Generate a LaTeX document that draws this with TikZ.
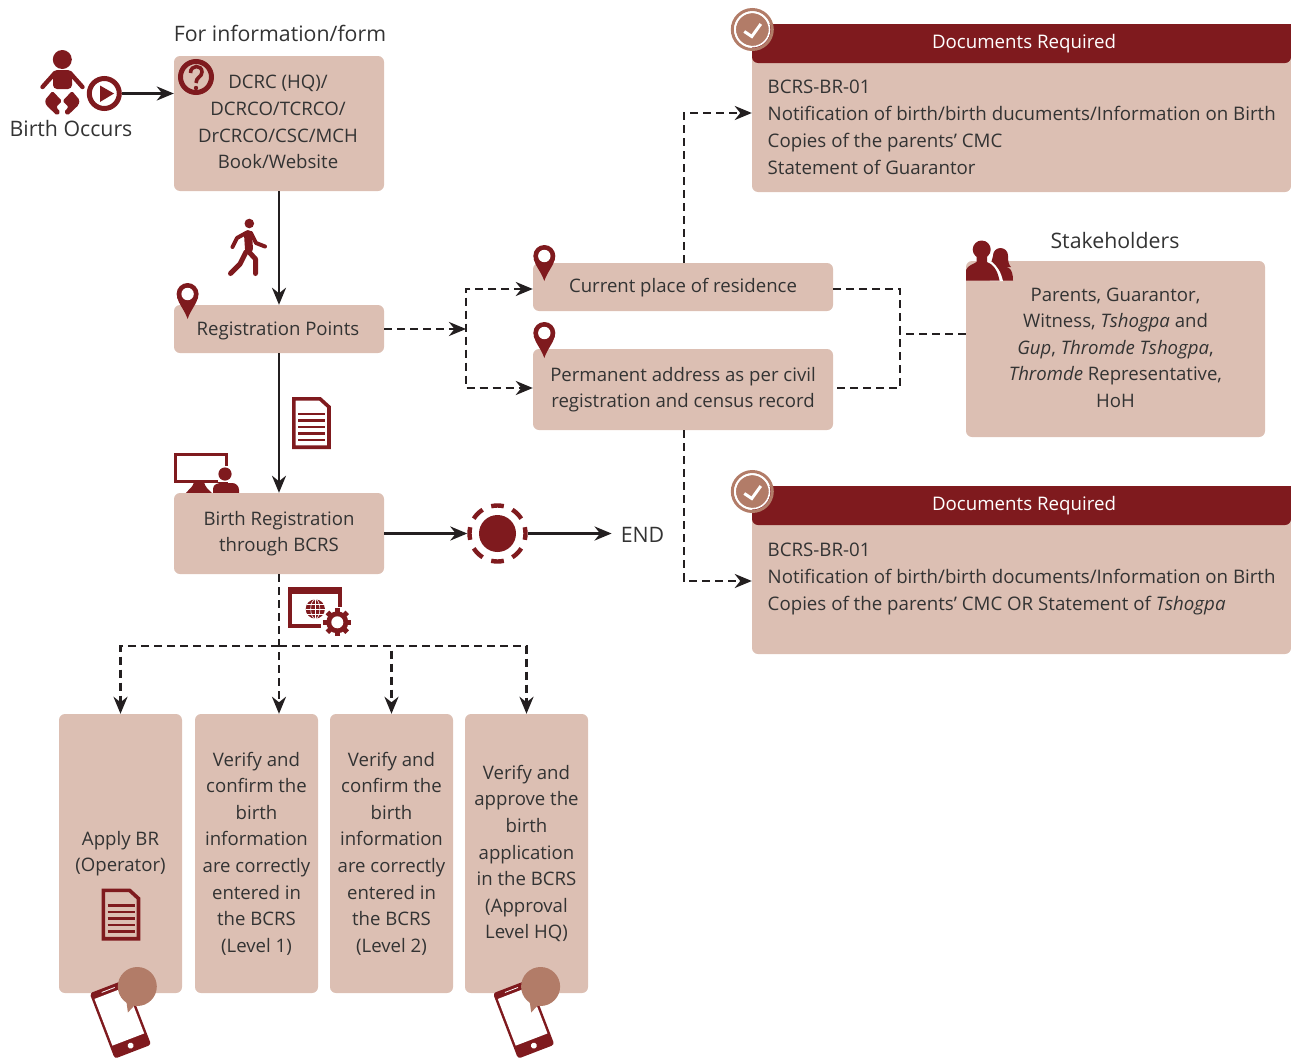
\documentclass[tikz,border=0pt]{standalone}
\usepackage{fontspec}
\setmainfont{Open Sans}
\usetikzlibrary{arrows.meta,calc}
\definecolor{boxfill}{HTML}{DCBFB3}
\definecolor{dred}{HTML}{7F1A1E}
\definecolor{brown}{HTML}{B27C68}
\definecolor{ink}{HTML}{231F20}
\definecolor{txt}{HTML}{333333}
\newcommand\liftlines[2]{\raisebox{#1}{\begin{tabular}{@{}c@{\hspace{2pt}}}#2\end{tabular}}}
\tikzset{
  x=1pt,y=-1pt,
  tip/.style={-{Stealth[length=17pt,width=14pt,inset=5.5pt]}},
  tips/.style={{Stealth[length=17pt,width=14pt,inset=5.5pt]}-{Stealth[length=17pt,width=14pt,inset=5.5pt]}},
  solidline/.style={draw=ink,line width=2.7pt},
  dashline/.style={draw=ink,line width=2.8pt,dash pattern=on 8pt off 5pt},
  boxbase/.style={fill=boxfill,rounded corners=6pt,inner sep=0pt,text=txt,align=center,font=\fontsize{18.6}{26.6}\selectfont},
  headtext/.style={inner sep=0pt,text=txt,font=\fontsize{21.3}{26}\selectfont},
  bodytext/.style={inner sep=0pt,text=txt,align=left,anchor=west,font=\fontsize{18.7}{27}\selectfont},
  whitetext/.style={inner sep=0pt,text=white,font=\fontsize{18.7}{22}\selectfont},
  pin/.pic={
    \fill[dred] (-10.6,14) .. controls (-9,21) and (-3,27) .. (0,36) .. controls (3,27) and (9,21) .. (10.6,14) -- cycle;
    \fill[dred] (0,11) circle[radius=11];
    \fill[white] (0,11) circle[radius=6.2];
  },
  sheet/.pic={
    \draw[dred,line width=3.6pt,miter limit=4] (1.8,1.8) -- (28,1.8) -- (37,10) -- (37,50.2) -- (1.8,50.2) -- cycle;
    \foreach \yy in {17,23.5,30,36.5,43} \draw[dred,line width=2.6pt] (6,\yy) -- (33,\yy);
  },
  phone/.pic={
    \begin{scope}[rotate=21]
      \fill[dred,rounded corners=3pt] (-19.5,-35) rectangle (19.5,35);
      \fill[white] (-17,-28) rectangle (17,22);
      \draw[white,line width=.8pt] (-8,-31.5) -- (6,-31.5);
      \fill[white] (0,28.5) circle[radius=3];
    \end{scope}
    \fill[brown] (16.9,-32.5) circle[radius=19.5];
    \fill[brown] (3,-40) -- (7.5,-6.5) -- (20,-20) -- cycle;
  },
  check/.pic={
    \draw[brown,line width=3pt] (0,0) circle[radius=20];
    \fill[brown] (0,0) circle[radius=16.5];
    \draw[white,line width=1.6pt] (0,0) circle[radius=17.2];
    \draw[white,line width=3pt] (-8,2) -- (-.5,7) -- (8.5,-5.5);
  },
}
\begin{document}
\begin{tikzpicture}
\useasboundingbox (0,0) rectangle (1291,1060);

% monitor behind the registration box
\fill[dred] (186,493) .. controls (190,488) and (193,487) .. (194,482) -- (204,482) .. controls (205,487) and (208,489) .. (212,493) -- cycle;
\draw[dred,line width=2.6pt,fill=white] (175.3,454.3) rectangle (226.7,481.5);
\fill[white] (218,466) rectangle (232,482);
\fill[dred] (225,474) circle[radius=6.6];
\fill[dred] (213,495) -- (213,489) .. controls (213,484) and (218,483) .. (222,483) -- (232,483) .. controls (236,483) and (239,486) .. (239,490) -- (239,495) -- cycle;

% boxes
\node[boxbase,minimum width=210pt,minimum height=135pt] (dcrc) at (279,123.5) {\liftlines{1.5pt}{DCRC (HQ)/\\DCRCO/TCRCO/\\DrCRCO/CSC/MCH\\Book/Website}};
\node[boxbase,minimum width=210pt,minimum height=48pt] (reg) at (279,329) {\rule[-4pt]{0pt}{22pt}Registration Points\rule{2pt}{0pt}};
\node[boxbase,minimum width=210pt,minimum height=81pt] (bir) at (279,533.5) {Birth Registration\\through BCRS};
\node[boxbase,minimum width=300pt,minimum height=48pt] (cur) at (683,287) {\rule[-4pt]{0pt}{20pt}Current place of residence};
\node[boxbase,minimum width=300pt,minimum height=81pt] (perm) at (683,389.5) {Permanent address as per civil\\registration and census record};
\node[boxbase,minimum width=299pt,minimum height=176pt] (stake) at (1115.5,349) {\rule{2pt}{0pt}\liftlines{1pt}{Parents, Guarantor,\\Witness, \textit{Tshogpa} and\\\textit{Gup}, \textit{Thromde Tshogpa},\\\textit{Thromde} Representative,\\HoH}};
\node[boxbase,minimum width=123pt,minimum height=279pt] (col1) at (120.5,853.5) {Apply BR\\(Operator)};
\node[boxbase,minimum width=123pt,minimum height=279pt] (col2) at (256.5,853.5) {Verify and\\confirm the\\birth\\information\\are correctly\\entered in\\the BCRS\\(Level 1)};
\node[boxbase,minimum width=123pt,minimum height=279pt] (col3) at (391.5,853.5) {Verify and\\confirm the\\birth\\information\\are correctly\\entered in\\the BCRS\\(Level 2)};
\node[boxbase,minimum width=123pt,minimum height=279pt] (col4) at (526.5,853.5) {Verify and\\approve the\\birth\\application\\in the BCRS\\(Approval\\Level HQ)};

% document panels
\fill[boxfill,rounded corners=6pt] (752,24) -- (752,192) -- (1291,192) [sharp corners] -- (1291,24) -- cycle;
\fill[dred,rounded corners=6pt] (752,24) -- (752,63) -- (1291,63) [sharp corners] -- (1291,24) -- cycle;
\fill[boxfill,rounded corners=6pt] (752,486) -- (752,654) -- (1291,654) [sharp corners] -- (1291,486) -- cycle;
\fill[dred,rounded corners=6pt] (752,486) -- (752,525) -- (1291,525) [sharp corners] -- (1291,486) -- cycle;
\node[minimum width=539pt,minimum height=168pt,inner sep=0pt] (doc1) at (1021.5,108) {};
\node[minimum width=539pt,minimum height=168pt,inner sep=0pt] (doc2) at (1021.5,570) {};
\node[whitetext] (h1) at (1024,44) {Documents Required};
\node[whitetext] (h2) at (1024,506) {Documents Required};
\node[bodytext] (t1) at (767.5,127.5) {BCRS-BR-01\\Notification of birth/birth ducuments/Information on Birth\\Copies of the parents’ CMC\\Statement of Guarantor};
\node[bodytext] (t2) at (767.5,578.5) {BCRS-BR-01\\Notification of birth/birth documents/Information on Birth\\Copies of the parents’ CMC OR Statement of \textit{Tshogpa}};

% free labels
\node[headtext] (forinfo) at (280,33) {For information/form};
\node[headtext] (birth) at (71,129) {Birth Occurs};
\node[headtext] (stk) at (1115,241) {Stakeholders};
\node[headtext,inner sep=0pt] (endl) at (642.5,534.5) {END};

% start icon: baby and play button
\fill[dred] (62.3,59.5) circle[radius=9.5];
\fill[dred,rounded corners=4pt] (53,70) rectangle (72,89);
\draw[dred,line width=4.4pt,line cap=round,line join=round] (55,73) -- (42.5,87);
\draw[dred,line width=4.4pt,line cap=round,line join=round] (70,73) -- (82.5,87);
\fill[dred,rounded corners=1.5pt] (52.5,91) -- (62,101) -- (56,107) -- (60.5,112) -- (57,115.5) -- (46,105) -- (45,100) -- cycle;
\fill[dred,rounded corners=1.5pt] (72,91) -- (62.6,101) -- (68.6,107) -- (64,112) -- (67.6,115.5) -- (78.6,105) -- (79.6,100) -- cycle;
\node[circle,draw=dred,line width=5pt,fill=white,minimum size=30pt,inner sep=0pt] (play) at (104.3,93.5) {};
\fill[dred] (100,85.5) -- (114,93.5) -- (100,102) -- cycle;

% question mark
\draw[dred,line width=5pt] (196,77) circle[radius=15.5];
\draw[dred,line width=3.6pt] (190.5,73) .. controls (190.5,64.5) and (202,64.5) .. (202,72) .. controls (202,77) and (196,77) .. (196,83);
\fill[dred] (196,88) circle[radius=2.2];

% walker
\fill[dred] (249.3,223.5) circle[radius=4.8];
\draw[dred,line width=8pt,line cap=round] (248,234) -- (249,249);
\draw[dred,line width=4pt,line cap=round,line join=round] (246,233) -- (237,238) -- (232.5,247);
\draw[dred,line width=4pt,line cap=round,line join=round] (251,233) -- (256,243) -- (265,246.5);
\draw[dred,line width=5pt,line cap=round,line join=round] (246,252) -- (240,264) -- (230.5,273.5);
\draw[dred,line width=5pt,line cap=round,line join=round] (249,252) -- (255.5,259) -- (255.5,273.5);

% pins, sheets
\pic at (187.6,283) {pin};
\pic at (544.3,245) {pin};
\pic at (544.3,322) {pin};
\pic at (292,397) {sheet};
\pic at (101.5,888.5) {sheet};

% end event
\node[circle,fill=dred,minimum size=37pt,inner sep=0pt] (core) at (497.5,533.5) {};
\node[circle,minimum size=60pt,inner sep=0pt] (evt) at (497.5,533.5) {};
\foreach \a in {0,45,...,315}
  \draw[dred,line width=4.4pt] (497.5,533.5) ++(\a-13:28) arc[start angle=\a-13,end angle=\a+13,radius=28];

% browser and gear
\fill[dred] (288,587) rectangle (342,594);
\fill[dred] (288,587) rectangle (292,628);
\fill[dred] (288,624) rectangle (321,628);
\fill[dred] (338,587) rectangle (342,607);
\fill[dred] (315.3,609) circle[radius=9.6];
\draw[white,line width=.6pt] (305.7,609) -- (324.9,609) (307,604.2) -- (323.6,604.2) (307,613.8) -- (323.6,613.8) (315.3,599.4) -- (315.3,618.6);
\draw[white,line width=.6pt] (315.3,609) ellipse[x radius=4.6,y radius=9.6];
\foreach \a in {0,45,...,315}
  \draw[dred,line width=5pt] (337.3,622.3) ++(\a:9) -- ++(\a:5);
\fill[dred] (337.3,622.3) circle[radius=11];
\fill[white] (337.3,622.3) circle[radius=6];

% stakeholders icon
\fill[dred] (1000.5,255.5) circle[radius=7.5];
\fill[dred] (993,256) -- (1008,256) .. controls (1008,262) and (1009,265) .. (1011,267) -- (990,267) -- cycle;
\fill[dred] (994,280.5) -- (990,268) .. controls (994,266) and (1006,266) .. (1009,268) .. controls (1012,270) and (1013,275) .. (1013,280.5) -- cycle;
\fill[white] (978,255) -- (992,262) .. controls (997,266) and (1001,272) .. (1003,281) -- (990,281) -- cycle;
\fill[dred] (981.7,249.5) circle[radius=9];
\fill[dred] (966,280.5) -- (966,270) .. controls (968,265) and (974,264) .. (976.5,262) -- (976.5,255) -- (987,255) -- (987,262) .. controls (992,264) and (997,268) .. (999.5,280.5) -- cycle;

% connectors
\draw[solidline,tip] (play.east) -- (dcrc.west |- play.east);
\draw[solidline,tip] (dcrc) -- (reg);
\draw[solidline,tip] (reg) -- (bir);
\draw[solidline,tip] (bir) -- (evt);
\draw[solidline,tip] (evt.east) -- ([xshift=-9pt]endl.west |- evt.east);

\coordinate (hub) at (466,329);
\coordinate (rbar) at (900,334);
\coordinate (bus) at (279,646);
\draw[dashline,tip] (reg.east) -- (hub);
\draw[dashline,tips] ([yshift=-2pt]cur.west) -| (hub) |- ([yshift=1.5pt]perm.west);
\draw[dashline,tip] ([xshift=1pt]cur.north) |- ([yshift=-5pt]doc1.west);
\draw[dashline,tip] ([xshift=1pt]perm.south) |- ([yshift=-11pt]doc2.west);
\draw[dashline] ([yshift=-2pt]cur.east) -| (rbar) |- ([yshift=1.5pt]perm.east);
\draw[dashline] ([yshift=15pt]stake.west) -- (rbar);
\draw[dashline,tip] (bir.south) -- (bir.south |- col2.north);
\draw[dashline,tip] (bus) -| (col1.north);
\draw[dashline,tip] (bus) -| (col3.north);
\draw[dashline,tip] (bus) -| (col4.north);

% top overlays
\pic at (752.3,29.5) {check};
\pic at (752.3,491.5) {check};
\pic at (120.4,1019) {phone};
\pic at (523.7,1019) {phone};
\end{tikzpicture}
\end{document}
